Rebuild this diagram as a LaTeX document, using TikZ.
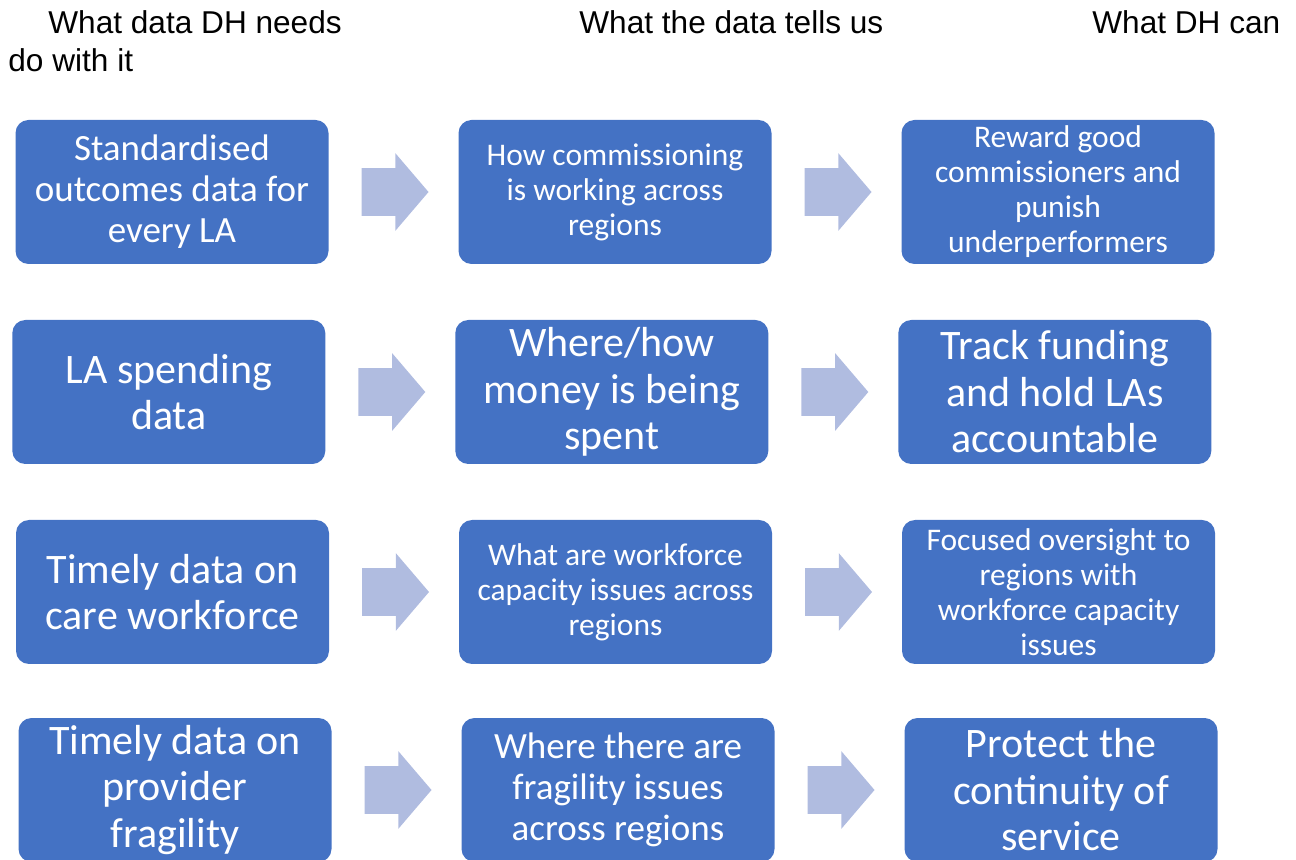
\documentclass[tikz,border=0pt]{standalone}
\usepackage{fontspec}
\setmainfont{Liberation Sans}
\newfontfamily\boxfont{Carlito}
\usetikzlibrary{positioning,shapes.arrows}

\definecolor{boxblue}{HTML}{4472C4}
\definecolor{arrowblue}{HTML}{B0BCE0}

\begin{document}
\begin{tikzpicture}[x=0.5pt,y=-0.5pt,
  databox/.style={rectangle,rounded corners=6.5pt,fill=boxblue,text=white,
    minimum width=156.5pt,minimum height=72pt,inner sep=0pt,outer sep=0pt,align=center},
  txtS/.style={font=\boxfont\fontsize{15.75pt}{17.5pt}\selectfont},
  txtM/.style={font=\boxfont\fontsize{18.5pt}{20.5pt}\selectfont},
  txtL/.style={font=\boxfont\fontsize{21pt}{23.25pt}\selectfont},
  flow/.style={single arrow,fill=arrowblue,minimum height=33.5pt,
    inner xsep=0pt,inner ysep=11.75pt,outer sep=0pt,
    single arrow head extend=7.5pt,single arrow tip angle=99},
  heading/.style={anchor=base west,inner sep=0pt,font=\fontsize{15.8pt}{19pt}\selectfont}]

\useasboundingbox (0,0) rectangle (1296,860);
\clip (0,0) rectangle (1296,860);

% column headings
\node[heading] (h1) at (48,34) {What data DH needs};
\node[heading] (h2) at (579,34) {What the data tells us};
\node[heading] (h3) at (1092,34) {What DH can};
\node[heading] (h4) at (8,72) {do with it};

% row 1
\node[databox,txtM] (b11) at (172,192) {Standardised\\outcomes data for\\every LA};
\node[flow,right=16.5pt of b11] (a11) {};
\node[databox,txtS,right=15pt of a11] (b12) {How commissioning\\is working across\\regions};
\node[flow,right=16.5pt of b12] (a12) {};
\node[databox,txtS,right=15pt of a12] (b13) {Reward good\\commissioners and\\punish\\underperformers};

% row 2
\node[databox,txtL] (b21) at (168.8,392) {LA spending\\data};
\node[flow,right=16.5pt of b21] (a21) {};
\node[databox,txtL,right=15pt of a21] (b22) {Where/how\\money is being\\spent};
\node[flow,right=16.5pt of b22] (a22) {};
\node[databox,txtL,right=15pt of a22] (b23) {Track funding\\and hold LAs\\accountable};

% row 3
\node[databox,txtL] (b31) at (172.5,592) {Timely data on\\care workforce};
\node[flow,right=16.5pt of b31] (a31) {};
\node[databox,txtS,right=15pt of a31] (b32) {What are workforce\\capacity issues across\\regions};
\node[flow,right=16.5pt of b32] (a32) {};
\node[databox,txtS,right=15pt of a32] (b33) {Focused oversight to\\regions with\\workforce capacity\\issues};

% row 4
\begin{scope}[every node/.append style={minimum height=70.5pt}]
\node[databox,txtL] (b41) at (175,790) {Timely data on\\provider\\fragility};
\node[flow,minimum height=33.5pt,right=16.5pt of b41] (a41) {};
\node[databox,txtM,right=15pt of a41] (b42) {Where there are\\fragility issues\\across regions};
\node[flow,minimum height=33.5pt,right=16.5pt of b42] (a42) {};
\node[databox,txtL,right=15pt of a42] (b43) {Protect the\\continuity of\\service};
\end{scope}

\end{tikzpicture}
\end{document}
